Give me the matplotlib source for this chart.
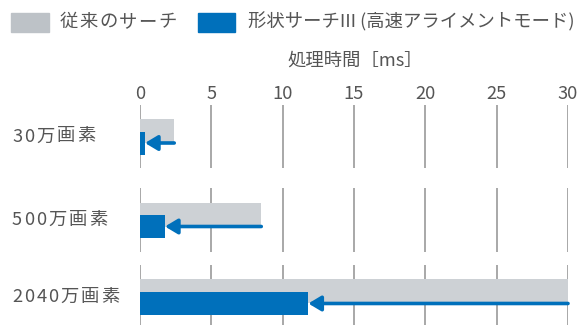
import matplotlib
matplotlib.use("Agg")
import matplotlib.pyplot as plt
from matplotlib.patches import Rectangle
from matplotlib.font_manager import findfont, FontProperties
from matplotlib.ft2font import FT2Font

plt.rcParams['font.family'] = ['Noto Sans CJK JP', 'DejaVu Sans']

# ---- data ----
categories = ["30万画素", "500万画素", "2040万画素"]
conventional = [2.4, 8.5, 30.0]
shape_search = [0.35, 1.75, 11.8]
series_names = ["従来のサーチ", "形状サーチIII (高速アライメントモード)"]
xticks = [0, 5, 10, 15, 20, 25, 30]
xlabel = "処理時間［ms］"

# ---- layout / style ----
W, H = 579, 325
DPI = 100
group_pos = [0.0, 1.0, 1.922]
unit_px = 83.5
gray = "#cdd1d5"
gray_leg = "#bdc2c7"
blue = "#0070bb"
grid_c = "#9a9a9a"
txt_c = "#555555"
fs = 13.2

fig = plt.figure(figsize=(W / DPI, H / DPI), dpi=DPI)
ax_left, ax_right = 140 / W, 568 / W
ax_top_px, ax_bot_px = 105, 325
ax = fig.add_axes([ax_left, 1 - ax_bot_px / H, ax_right - ax_left, (ax_bot_px - ax_top_px) / H])

y_top = -(136.5 - ax_top_px) / unit_px
y_bot = (ax_bot_px - 136.5) / unit_px
ax.set_ylim(y_bot, y_top)
ax.set_xlim(0, 30)

half = 31.8 / unit_px
g_off = -5.5 / unit_px
g_h = 24 / unit_px
b_off = 6.5 / unit_px
b_h = 23 / unit_px

for p in group_pos:
    ax.vlines(xticks, p - half, p + half, colors=grid_c, lw=1.2, zorder=1)

ax.barh([p + g_off for p in group_pos], conventional, height=g_h, color=gray, zorder=2)
ax.barh([p + b_off for p in group_pos], shape_search, height=b_h, color=blue, zorder=3)

for p, c, s in zip(group_pos, conventional, shape_search):
    ax.annotate("", xy=(s, p + b_off), xytext=(c, p + b_off),
                arrowprops=dict(arrowstyle="-|>,head_length=0.75,head_width=0.45",
                                lw=2.6, color=blue, mutation_scale=10,
                                shrinkA=0, shrinkB=0),
                zorder=4)

for sp in ax.spines.values():
    sp.set_visible(False)
ax.xaxis.tick_top()
ax.set_xticks(xticks)
ax.set_xticklabels([str(t) for t in xticks], fontsize=fs, color=txt_c)
ax.tick_params(axis='x', length=0, pad=1.5)
ax.set_yticks([])
ax.patch.set_visible(False)

# tracked text helper (letter spacing), positions in pixels from top-left
_font = FT2Font(findfont(FontProperties(family='Noto Sans CJK JP')))
_font.set_size(fs, DPI)


def tracked_text(x_px, y_fig, s, tracking_px):
    x = x_px
    for ch in s:
        fig.text(x / W, y_fig, ch, ha='left', va='center', fontsize=fs, color=txt_c)
        g = _font.load_char(ord(ch))
        x += g.linearHoriAdvance / 65536.0 + tracking_px


# category labels
for p, lab in zip(group_pos, categories):
    _, yd = ax.transData.transform((0, p))
    y_fig = fig.transFigure.inverted().transform((0, yd))[1]
    tracked_text(12.0, y_fig, lab, 2.0)

# axis label
fig.text(287 / W, 1 - 61 / H, xlabel, ha='left', va='center', fontsize=fs, color=txt_c)

# legend
fig.patches.append(Rectangle((11 / W, 1 - 31.7 / H), 38 / W, 19 / H,
                             transform=fig.transFigure, color=gray_leg, figure=fig))
tracked_text(60.0, 1 - 22 / H, series_names[0], 1.3)
fig.patches.append(Rectangle((198 / W, 1 - 31.7 / H), 37 / W, 19 / H,
                             transform=fig.transFigure, color=blue, figure=fig))
fig.text(248 / W, 1 - 22 / H, series_names[1], ha='left', va='center', fontsize=fs, color=txt_c)

fig.savefig("out.png", dpi=DPI)
